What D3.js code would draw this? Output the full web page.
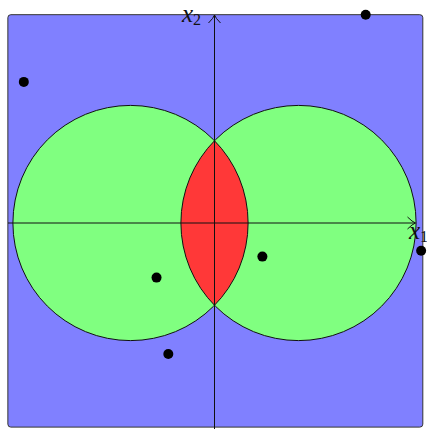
<!DOCTYPE html>
<html>
<head>
<meta charset="utf-8">
<script src="https://cdn.jsdelivr.net/npm/d3@7"></script>
<style>
  html, body { margin: 0; padding: 0; background: #fff; overflow: hidden; }
  svg { display: block; }
</style>
</head>
<body>
<div id="chart"></div>
<script>
// two discs in the plane, their intersection, and some sample points
const centers = [[-1, 0], [1, 0]];
const radius = 1.4;
const pointsX = [-2.27, 1.80, 2.46, 0.57, -0.69, -0.55];
const pointsY = [1.68, 2.48, -0.33, -0.40, -0.65, -1.56];
const region = { x0: -2.46, x1: 2.48, y0: -2.43, y1: 2.48 };
const axisLabels = ['x', 'x'];
const axisSubs = ['1', '2'];

(function(){
  const width = 427, height = 429;
  const ox = 214.5, oy = 223, unit = 84;

  const x = d3.scaleLinear().domain([0, 1]).range([ox, ox + unit]);
  const y = d3.scaleLinear().domain([0, 1]).range([oy, oy - unit]);
  const rpx = x(radius) - x(0);

  const svg = d3.select('#chart').append('svg')
    .attr('width', width)
    .attr('height', height);

  // background region
  svg.append('rect')
    .attr('x', x(region.x0))
    .attr('y', y(region.y1))
    .attr('width', x(region.x1) - x(region.x0))
    .attr('height', y(region.y0) - y(region.y1))
    .attr('rx', 3)
    .attr('fill', '#8080ff')
    .attr('stroke', '#333')
    .attr('stroke-width', 1);

  // discs
  svg.append('defs').append('clipPath').attr('id', 'clipL')
    .append('circle')
    .attr('cx', x(centers[0][0]))
    .attr('cy', y(centers[0][1]))
    .attr('r', rpx);

  svg.selectAll('circle.disc').data(centers).enter().append('circle')
    .attr('class', 'disc')
    .attr('cx', d => x(d[0]))
    .attr('cy', d => y(d[1]))
    .attr('r', rpx)
    .attr('fill', '#80ff80');

  // intersection
  svg.append('circle')
    .attr('cx', x(centers[1][0]))
    .attr('cy', y(centers[1][1]))
    .attr('r', rpx)
    .attr('clip-path', 'url(#clipL)')
    .attr('fill', '#ff3838');

  svg.selectAll('circle.edge').data(centers).enter().append('circle')
    .attr('class', 'edge')
    .attr('cx', d => x(d[0]))
    .attr('cy', d => y(d[1]))
    .attr('r', rpx)
    .attr('fill', 'none')
    .attr('stroke', '#111')
    .attr('stroke-width', 1);

  // axes with open arrow heads
  const ax = svg.append('g').attr('stroke', '#111').attr('stroke-width', 1).attr('fill', 'none');
  const xEnd = 415.5, yEnd = 15;
  ax.append('line').attr('x1', 8).attr('y1', oy).attr('x2', xEnd).attr('y2', oy);
  ax.append('line').attr('x1', ox).attr('y1', height).attr('x2', ox).attr('y2', yEnd);
  ax.append('path')
    .attr('d', `M${xEnd - 8},${oy - 6} Q${xEnd - 3},${oy - 1} ${xEnd},${oy} Q${xEnd - 3},${oy + 1} ${xEnd - 8},${oy + 6}`);
  ax.append('path')
    .attr('d', `M${ox - 6},${yEnd + 8} Q${ox - 1},${yEnd + 3} ${ox},${yEnd} Q${ox + 1},${yEnd + 3} ${ox + 6},${yEnd + 8}`);

  // labels (x1 runs off the right edge, as in the original)
  const lab = [[409, 239], [182, 22]];
  lab.forEach((p, i) => {
    const t = svg.append('text')
      .attr('x', p[0])
      .attr('y', p[1])
      .attr('font-family', '"Liberation Serif", "DejaVu Serif", serif')
      .attr('font-size', 25)
      .attr('fill', '#111');
    t.append('tspan').attr('font-style', 'italic').text(axisLabels[i]);
    t.append('tspan').attr('font-size', 16).attr('dy', 3).text(axisSubs[i]);
  });

  // points
  svg.selectAll('circle.pt').data(pointsX).enter().append('circle')
    .attr('class', 'pt')
    .attr('cx', (d, i) => x(d))
    .attr('cy', (d, i) => y(pointsY[i]))
    .attr('r', 5)
    .attr('fill', '#000');
})();
</script>
</body>
</html>
